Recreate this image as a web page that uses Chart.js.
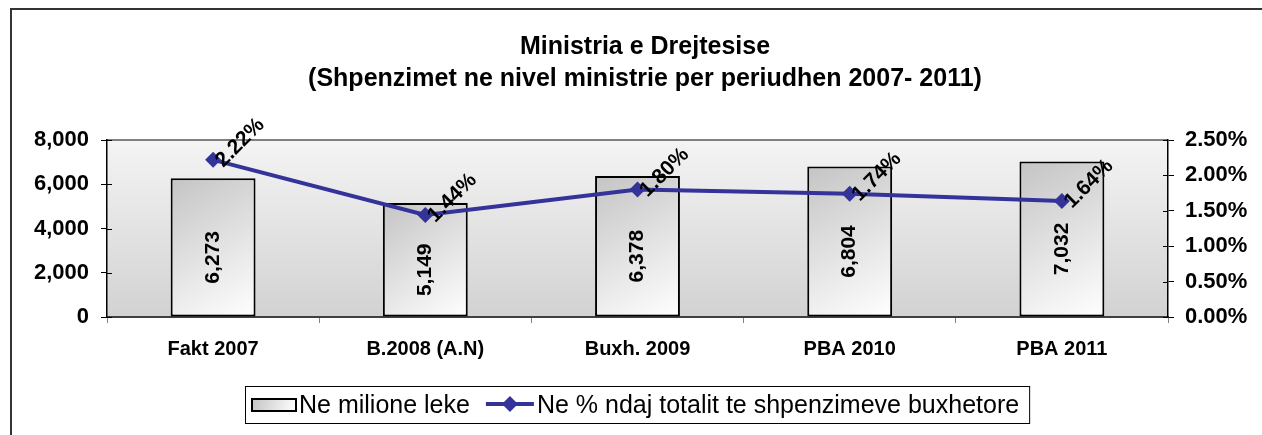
<!DOCTYPE html>
<html>
<head>
<meta charset="utf-8">
<script src="https://cdn.jsdelivr.net/npm/chart.js@4"></script>
<style>
  html, body { margin: 0; padding: 0; background: #fff; }
  #wrap { width: 1262px; height: 435px; }
</style>
</head>
<body>
<div id="wrap"><canvas id="grafiku" width="1262" height="435"></canvas></div>
<script>
// Te dhenat
const kategorite = ["Fakt 2007", "B.2008 (A.N)", "Buxh. 2009", "PBA 2010", "PBA 2011"];
const milioneLeke = [6273, 5149, 6378, 6804, 7032];
const perqindja = [2.22, 1.44, 1.80, 1.74, 1.64];
const titulli = ["Ministria e Drejtesise", "(Shpenzimet ne nivel ministrie per periudhen 2007- 2011)"];
const etiketaSeri = ["Ne milione leke", "Ne % ndaj totalit te shpenzimeve buxhetore"];

const FONT = "'Liberation Sans', Arial, sans-serif";
const BLU = "#333399";

Chart.defaults.font.family = FONT;
Chart.defaults.color = "#000";

function gradientShtylle(ctx, x0, y0, x1, y1) {
  const g = ctx.createLinearGradient(x0, y0, x1, y1);
  g.addColorStop(0, "#c4c4c4");
  g.addColorStop(1, "#ffffff");
  return g;
}

// sfondi i zones se grafikut, korniza dhe titulli
const sfondi = {
  id: "sfondi",
  beforeDraw(chart) {
    const { ctx, chartArea: a } = chart;
    ctx.save();
    ctx.fillStyle = "#fff";
    ctx.fillRect(0, 0, chart.width, chart.height);
    ctx.strokeStyle = "#333";
    ctx.lineWidth = 2;
    ctx.strokeRect(11, 9, chart.width + 50, chart.height + 50);

    // titulli (qendra e kornizes eshte pak me djathtas)
    ctx.fillStyle = "#000";
    ctx.font = "bold 25px " + FONT;
    ctx.textAlign = "center";
    ctx.textBaseline = "middle";
    ctx.fillText(titulli[0], 645, 47);
    ctx.fillText(titulli[1], 645, 79);

    const g = ctx.createLinearGradient(0, a.top, 0, a.bottom);
    g.addColorStop(0, "#f4f4f4");
    g.addColorStop(1, "#d2d2d2");
    ctx.fillStyle = g;
    ctx.fillRect(a.left, a.top, a.right - a.left, a.bottom - a.top);
    ctx.strokeStyle = "#808080";
    ctx.lineWidth = 2;
    ctx.beginPath();
    ctx.moveTo(a.left, a.top);
    ctx.lineTo(a.right, a.top);
    ctx.stroke();
    ctx.restore();
  },
  afterDraw(chart) {
    // vijat e vogla te ndarjes nga brenda boshteve
    const { ctx, chartArea: a, scales } = chart;
    ctx.save();
    ctx.strokeStyle = "#000";
    ctx.lineWidth = 1;
    ctx.beginPath();
    scales.y.ticks.forEach((t) => {
      const y = Math.round(scales.y.getPixelForValue(t.value)) + 0.5;
      ctx.moveTo(a.left, y);
      ctx.lineTo(a.left + 5, y);
    });
    scales.y1.ticks.forEach((t) => {
      const y = Math.round(scales.y1.getPixelForValue(t.value)) + 0.5;
      ctx.moveTo(a.right, y);
      ctx.lineTo(a.right - 5, y);
    });
    ctx.stroke();
    ctx.restore();
  }
};

// etiketat e vlerave
const etiketat = {
  id: "etiketat",
  afterDatasetsDraw(chart) {
    const ctx = chart.ctx;
    ctx.save();
    ctx.fillStyle = "#000";
    ctx.textAlign = "center";
    ctx.textBaseline = "middle";

    ctx.font = "bold 21px " + FONT;
    chart.getDatasetMeta(1).data.forEach((el, i) => {
      ctx.save();
      ctx.translate(el.x, (el.y + el.base) / 2 + 10);
      ctx.rotate(-Math.PI / 2);
      ctx.fillText(milioneLeke[i].toLocaleString("en-US"), 0, 0);
      ctx.restore();
    });

    ctx.font = "bold 21px " + FONT;
    chart.getDatasetMeta(0).data.forEach((el, i) => {
      ctx.save();
      ctx.translate(el.x + 27, el.y - 17);
      ctx.rotate(-Math.PI / 4);
      ctx.fillText(perqindja[i].toFixed(2) + "%", 0, 0);
      ctx.restore();
    });
    ctx.restore();
  }
};

// legjenda me kuti
const legjenda = {
  id: "legjenda",
  afterDraw(chart) {
    const ctx = chart.ctx;
    const yc = 405;
    ctx.save();
    ctx.font = "25px " + FONT;
    const w1 = ctx.measureText(chart.data.datasets[1].label).width;
    const w2 = ctx.measureText(chart.data.datasets[0].label).width;
    let x = 252;
    const x1 = x + 44 + 3;
    const xl = x1 + w1 + 16;
    const x2 = xl + 48 + 3;
    const fund = x2 + w2 + 10;

    ctx.fillStyle = "#fff";
    ctx.fillRect(245, 386, fund - 245, 37);
    ctx.strokeStyle = "#000";
    ctx.lineWidth = 1;
    ctx.strokeRect(245.5, 386.5, fund - 245, 37);

    ctx.fillStyle = gradientShtylle(ctx, x, yc - 6, x + 44, yc + 6);
    ctx.fillRect(x, yc - 6, 44, 12);
    ctx.lineWidth = 2;
    ctx.strokeRect(x, yc - 6, 44, 12);

    ctx.fillStyle = "#000";
    ctx.textBaseline = "middle";
    ctx.textAlign = "left";
    ctx.fillText(chart.data.datasets[1].label, x1, yc + 1);

    ctx.strokeStyle = BLU;
    ctx.lineWidth = 4;
    ctx.beginPath();
    ctx.moveTo(xl, yc - 1);
    ctx.lineTo(xl + 48, yc - 1);
    ctx.stroke();
    ctx.fillStyle = BLU;
    ctx.beginPath();
    ctx.moveTo(xl + 24, yc - 9);
    ctx.lineTo(xl + 32, yc - 1);
    ctx.lineTo(xl + 24, yc + 7);
    ctx.lineTo(xl + 16, yc - 1);
    ctx.closePath();
    ctx.fill();

    ctx.fillStyle = "#000";
    ctx.fillText(chart.data.datasets[0].label, x2, yc + 1);
    ctx.restore();
  }
};

new Chart(document.getElementById("grafiku"), {
  data: {
    labels: kategorite,
    datasets: [
      {
        type: "line",
        label: etiketaSeri[1],
        data: perqindja,
        yAxisID: "y1",
        borderColor: BLU,
        backgroundColor: BLU,
        borderWidth: 4,
        pointStyle: "rectRot",
        pointRadius: 8,
        pointBorderWidth: 0,
        tension: 0,
        order: 1
      },
      {
        type: "bar",
        label: etiketaSeri[0],
        data: milioneLeke,
        yAxisID: "y",
        backgroundColor: (c) => {
          const ch = c.chart;
          if (!ch.chartArea || c.dataIndex === undefined) return "#ddd";
          const sx = ch.scales.x, sy = ch.scales.y;
          const xc = sx.getPixelForValue(c.dataIndex);
          const gj = (sx.width / kategorite.length) * 0.4 / 2;
          return gradientShtylle(ch.ctx, xc - gj, sy.getPixelForValue(c.raw), xc + gj, sy.getPixelForValue(0));
        },
        borderColor: "#000",
        borderWidth: 2,
        borderSkipped: false,
        categoryPercentage: 1,
        barPercentage: 0.4,
        order: 2
      }
    ]
  },
  options: {
    responsive: false,
    animation: false,
    layout: { padding: { top: 140 } },
    plugins: {
      legend: { display: false },
      tooltip: { enabled: false },
      title: { display: false }
    },
    scales: {
      x: {
        offset: true,
        afterFit: (s) => { s.height = 118; },
        grid: { display: true, drawOnChartArea: false, offset: true, tickLength: 6, color: "#808080" },
        border: { color: "#404040", width: 2 },
        ticks: { font: { size: 20, weight: "bold" }, padding: 14, color: "#000" }
      },
      y: {
        position: "left",
        min: 0,
        max: 8000,
        afterFit: (s) => { s.width = 107; },
        grid: { drawOnChartArea: false, tickLength: 6, color: "#000" },
        border: { color: "#000", width: 1.5 },
        ticks: {
          stepSize: 2000,
          padding: 12,
          font: { size: 22, weight: "bold" },
          callback: (v) => v.toLocaleString("en-US")
        }
      },
      y1: {
        position: "right",
        min: 0,
        max: 2.5,
        afterFit: (s) => { s.width = 94; },
        grid: { drawOnChartArea: false, tickLength: 6, color: "#000" },
        border: { color: "#000", width: 1.5 },
        ticks: {
          stepSize: 0.5,
          padding: 11,
          font: { size: 22, weight: "bold" },
          callback: (v) => v.toFixed(2) + "%"
        }
      }
    }
  },
  plugins: [sfondi, etiketat, legjenda]
});
</script>
</body>
</html>
